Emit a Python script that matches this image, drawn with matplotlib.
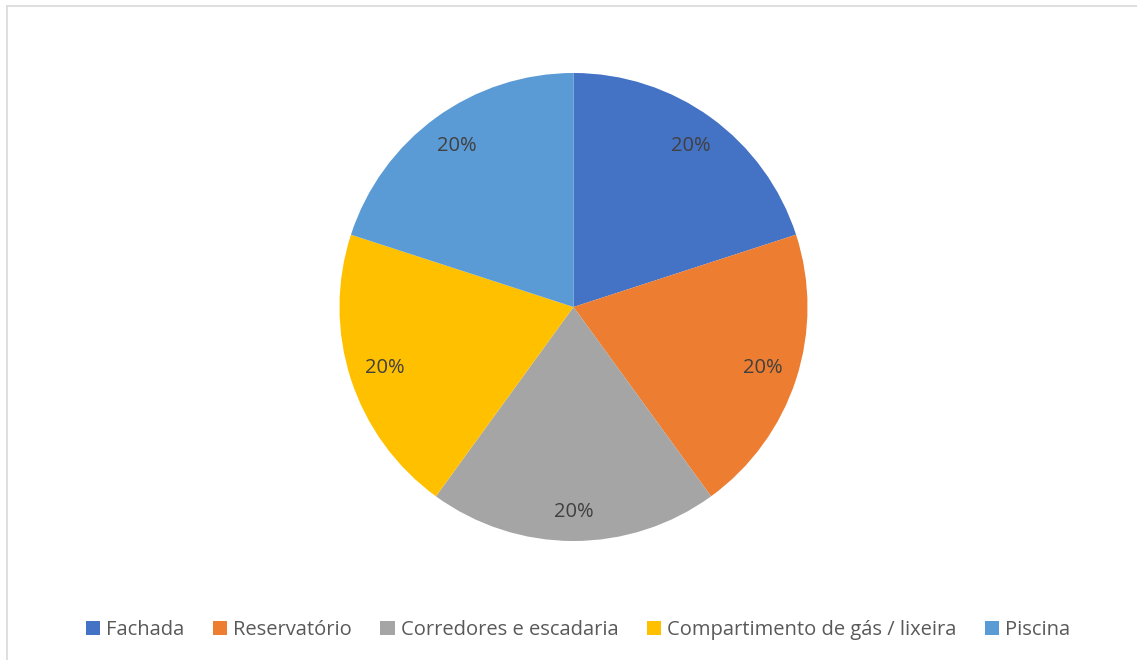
import numpy as np
import matplotlib.pyplot as plt
from matplotlib.patches import Patch
from matplotlib.lines import Line2D

categories = ["Fachada", "Reservatório", "Corredores e escadaria",
              "Compartimento de gás / lixeira", "Piscina"]
values = [20, 20, 20, 20, 20]
colors = ["#4472C4", "#ED7D31", "#A5A5A5", "#FFC000", "#5B9BD5"]

plt.rcParams['font.family'] = ['Open Sans', 'DejaVu Sans']
plt.rcParams['font.stretch'] = 'normal'

W, H = 1137, 660
fig = plt.figure(figsize=(W / 100, H / 100), dpi=100)
fig.patch.set_facecolor("white")

# chart area frame (top and left edges visible)
fig.add_artist(Line2D([6.5 / W, 6.5 / W], [0, 1 - 5.5 / H], transform=fig.transFigure,
                      color="#d9d9d9", lw=1.2))
fig.add_artist(Line2D([6.5 / W, 1], [1 - 5.5 / H, 1 - 5.5 / H], transform=fig.transFigure,
                      color="#d9d9d9", lw=1.2))

cx, cy, r = 573.5, 307, 234
ax = fig.add_axes([(cx - r) / W, (H - cy - r) / H, 2 * r / W, 2 * r / H])
wedges, texts, autotexts = ax.pie(
    values, colors=colors, startangle=90, counterclock=False,
    autopct=lambda p: f"{p:.0f}%", pctdistance=0.85,
    textprops=dict(color="#404040", fontsize=14.5),
    wedgeprops=dict(linewidth=0))

# labels near the bottom of the pie sit a little further out
for w, t in zip(wedges, autotexts):
    ang = np.deg2rad((w.theta1 + w.theta2) / 2)
    if np.sin(ang) < -0.9:
        t.set_position((0.876 * np.cos(ang), 0.876 * np.sin(ang)))

ax.set_xlim(-1, 1)
ax.set_ylim(-1, 1)
ax.set_aspect("equal")
ax.axis("off")

handles = [Patch(facecolor=c, edgecolor="none") for c in colors]
fig.legend(handles, categories, loc="center", bbox_to_anchor=(578 / W, 1 - 630 / H),
           ncol=5, frameon=False, fontsize=14.5, labelcolor="#595959",
           handlelength=0.72, handleheight=0.72, handletextpad=0.3,
           columnspacing=1.4, borderaxespad=0)

fig.savefig("out.png", dpi=100)
